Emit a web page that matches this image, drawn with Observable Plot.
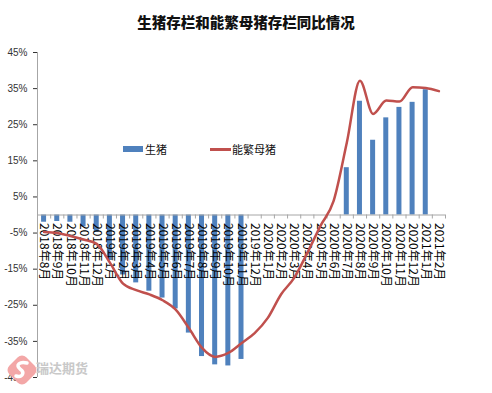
<!DOCTYPE html>
<html><head><meta charset="utf-8">
<script src="https://cdn.jsdelivr.net/npm/d3@7"></script>
<script src="https://cdn.jsdelivr.net/npm/@observablehq/plot@0.6"></script>
<style>
body{margin:0;background:#fff;font-family:"Noto Sans CJK SC","Noto Sans",sans-serif;}
#wrap{position:relative;width:492px;height:393px;overflow:hidden;background:#fff}
#title{height:40px;line-height:44px;text-align:center;font-size:14.5px;font-weight:900;color:#111;letter-spacing:0px}
.lg{position:absolute;font-size:11px;color:#111;line-height:12px}
#wm{position:absolute;left:36px;top:358px;font-size:13px;font-weight:bold;color:#c9c9c9}
#icon{position:absolute;left:2px;top:350px}
</style>
</head><body>
<div id="wrap">
  <div id="title">生猪存栏和能繁母猪存栏同比情况</div>
  <div id="chart"></div>
  <div class="lg" style="left:123px;top:146px;width:20px;height:6px;background:#4f81bd"></div>
  <div class="lg" style="left:145px;top:143px">生猪</div>
  <div class="lg" style="left:210px;top:147.5px;width:21px;height:3px;background:#c0504d"></div>
  <div class="lg" style="left:232px;top:143px">能繁母猪</div>
  <svg id="icon" width="40" height="40" viewBox="0 0 40 40">
    <rect x="8" y="8" width="24" height="24" rx="6" fill="#f3a7a7" transform="rotate(45 20 20)"/>
    <path d="M25 13 C18 11 13 15 18 19 C23 22 21 28 14 26" fill="none" stroke="#fff" stroke-width="3.5" stroke-linecap="round"/>
  </svg>
  <div id="wm">瑞达期货</div>
</div>
<script>
const categories = ["2018年8月","2018年9月","2018年10月","2018年11月","2018年12月",
  "2019年1月","2019年2月","2019年3月","2019年4月","2019年5月","2019年6月","2019年7月","2019年8月","2019年9月","2019年10月","2019年11月","2019年12月",
  "2020年1月","2020年2月","2020年3月","2020年4月","2020年5月","2020年6月","2020年7月","2020年8月","2020年9月","2020年10月","2020年11月","2020年12月",
  "2021年1月","2021年2月"];
// 生猪存栏同比 (%)
const hogs = [-2.0,-1.8,-2.0,-3.3,-4.8,
  -12.6,-16.6,-18.8,-21.1,-23.0,-26.0,-32.7,-39.2,-41.5,-41.8,-40.0,null,
  null,null,null,null,null,null,13.1,31.5,20.7,26.9,29.8,31.2,
  34.7,null];
// 能繁母猪存栏同比 (%)
const sows = [-4.7,-5.0,-5.8,-6.8,-8.0,
  -13.2,-19.0,-20.8,-22.0,-23.6,-26.2,-31.3,-36.8,-39.3,-38.2,-35.5,-32.7,
  -28.5,-22.0,-17.4,-10.5,-3.0,3.9,20.0,37.2,28.0,31.7,31.4,35.4,
  35.2,34.3];
const yTicks = [-45,-35,-25,-15,-5,5,15,25,35,45];

const idx = categories.map((_, i) => i);
const bounds = d3.range(0, categories.length + 1);
const axisColor = "#a6a6a6";

const chart = Plot.plot({
  width: 492, height: 353,
  marginTop: 12, marginBottom: 16, marginLeft: 37, marginRight: 47,
  style: {fontSize: "10px", fontFamily: "'Liberation Sans', Arial, sans-serif", color: "#333", background: "#fff"},
  x: {domain: [0, categories.length], axis: null},
  y: {domain: [-45, 45], ticks: yTicks, tickFormat: d => d + "%", tickSize: 4, tickPadding: 6, label: null},
  marks: [
    Plot.rectY(idx.filter(i => hogs[i] != null), {x1: i => i + 0.31, x2: i => i + 0.69, y1: 0, y2: i => hogs[i], fill: "#4f81bd"}),
    Plot.ruleY([0], {stroke: axisColor}),
    Plot.ruleX([0], {stroke: axisColor}),
    Plot.ruleX(bounds, {x: d => d, y1: 0, y2: 0, insetBottom: -4, stroke: axisColor}),
    Plot.text(idx, {x: i => i + 0.5, y: 0, text: i => categories[i], rotate: 90, textAnchor: "start", dy: 8, fontSize: 12, fill: "#000", fontFamily: "'Noto Sans CJK SC', sans-serif"}),
    Plot.line(idx, {x: i => i + 0.5, y: i => sows[i], stroke: "#c0504d", strokeWidth: 2.5, curve: "monotone-x"})
  ]
});
document.getElementById("chart").appendChild(chart);
</script>
</body></html>
